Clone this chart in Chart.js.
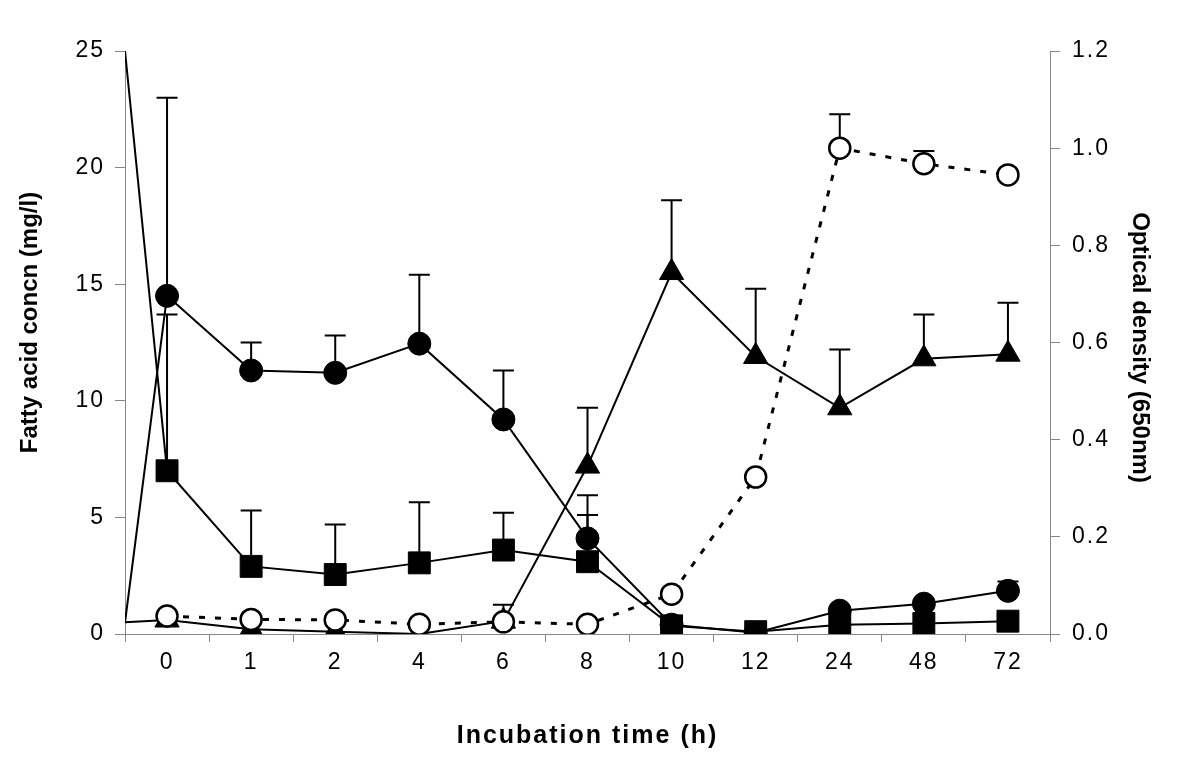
<!DOCTYPE html>
<html>
<head>
<meta charset="utf-8">
<script src="https://cdn.jsdelivr.net/npm/chart.js@4.4.1/dist/chart.umd.min.js"></script>
<style>
  html, body { margin: 0; padding: 0; background: #fff; }
</style>
</head>
<body>
<canvas id="myChart" width="1200" height="778"></canvas>
<script>
const hours = ['0', '1', '2', '4', '6', '8', '10', '12', '24', '48', '72'];

// filled circles
const circleMean = [14.5, 11.3, 11.2, 12.45, 9.2, 4.1, 0.4, 0.05, 1.0, 1.3, 1.85];
const circleErr  = [8.5, 1.2, 1.6, 2.95, 2.1, 1.85, 0, 0, 0, 0, 0.4];
// filled squares
const squareMean = [7.0, 2.9, 2.55, 3.05, 3.6, 3.1, 0.35, 0.1, 0.4, 0.45, 0.55];
const squareErr  = [6.7, 2.4, 2.15, 2.6, 1.6, 2.0, 0, 0, 0, 0, 0];
// filled triangles
const triMean = [0.6, 0.2, 0.1, 0.0, 0.55, 7.2, 15.5, 11.9, 9.7, 11.8, 12.0];
const triErr  = [0, 0, 0, 0, 0.7, 2.5, 3.1, 2.9, 2.5, 1.9, 2.2];
// open circles = optical density (right axis)
const odMean = [0.037, 0.030, 0.029, 0.020, 0.025, 0.020, 0.082, 0.323, 1.0, 0.968, 0.945];
const odErr  = [0, 0, 0, 0, 0, 0, 0, 0, 0.07, 0.026, 0];

// stray points sitting on the left edge of the plot
const leadX = -0.5;
const circleLead = 0.5;
const squareLead = 25;
const triLead = 0.5;

const leftTitle = 'Fatty acid concn (mg/l)';
const rightTitle = 'Optical density (650nm)';

const FONT = '"Liberation Sans", Arial, Helvetica, sans-serif';

function pts(vals, lead) {
  const out = vals.map((v, i) => ({x: i, y: v}));
  if (lead !== undefined) out.unshift({x: leadX, y: lead});
  return out;
}

const extras = {
  id: 'extras',
  beforeDraw(chart) {
    // the original lettering is rather wide
    chart.ctx.letterSpacing = '2px';
  },
  // only the upper half of each error bar is shown
  beforeDatasetsDraw(chart) {
    const ctx = chart.ctx;
    const xs = chart.scales.x;
    chart.data.datasets.forEach((ds, di) => {
      if (!ds.errors) return;
      const ys = chart.scales[chart.getDatasetMeta(di).yAxisID];
      ctx.save();
      ctx.strokeStyle = '#000';
      ctx.lineWidth = 2;
      ds.data.forEach(p => {
        if (p.x < 0) return;
        const e = ds.errors[p.x];
        if (!e) return;
        const px = xs.getPixelForValue(p.x);
        const y0 = ys.getPixelForValue(p.y);
        const y1 = ys.getPixelForValue(p.y + e);
        ctx.beginPath();
        ctx.moveTo(px, y0);
        ctx.lineTo(px, y1);
        ctx.moveTo(px - 10.5, y1);
        ctx.lineTo(px + 10.5, y1);
        ctx.stroke();
      });
      ctx.restore();
    });
  },
  // vertical axis titles, drawn without the extra spacing
  afterDraw(chart) {
    const ctx = chart.ctx;
    const {y, y2} = chart.scales;
    const mid = (chart.chartArea.top + chart.chartArea.bottom) / 2;
    ctx.save();
    ctx.letterSpacing = '0px';
    ctx.fillStyle = '#000';
    ctx.font = 'bold 24px ' + FONT;
    ctx.textAlign = 'center';
    ctx.textBaseline = 'middle';
    ctx.save();
    ctx.translate(y.left + 30, mid - 20);
    ctx.rotate(-Math.PI / 2);
    ctx.fillText(leftTitle, 0, 0);
    ctx.restore();
    ctx.translate(y2.right - 60, mid + 5);
    ctx.rotate(Math.PI / 2);
    ctx.fillText(rightTitle, 0, 0);
    ctx.restore();
  }
};

const hideLead = r => c => (c.raw && c.raw.x < 0 ? 0 : r);

const cfg = {
  type: 'line',
  data: {
    datasets: [{
      label: 'OD',
      data: pts(odMean),
      errors: odErr,
      yAxisID: 'y2',
      borderColor: '#000',
      borderWidth: 3,
      borderDash: [6, 10],
      pointStyle: 'circle',
      pointRadius: 10.5,
      pointBorderWidth: 2.5,
      pointBackgroundColor: '#fff',
      pointBorderColor: '#000'
    }, {
      label: 'squares',
      data: pts(squareMean, squareLead),
      errors: squareErr,
      yAxisID: 'y',
      borderColor: '#000',
      borderWidth: 2,
      pointStyle: 'rect',
      pointRadius: hideLead(15.5),
      pointBorderWidth: 1,
      pointBackgroundColor: '#000',
      pointBorderColor: '#000'
    }, {
      label: 'circles',
      data: pts(circleMean, circleLead),
      errors: circleErr,
      yAxisID: 'y',
      borderColor: '#000',
      borderWidth: 2,
      pointStyle: 'circle',
      pointRadius: hideLead(11.5),
      pointBorderWidth: 1,
      pointBackgroundColor: '#000',
      pointBorderColor: '#000'
    }, {
      label: 'triangles',
      data: pts(triMean, triLead),
      errors: triErr,
      yAxisID: 'y',
      borderColor: '#000',
      borderWidth: 2,
      pointStyle: 'triangle',
      pointRadius: hideLead(14),
      pointBorderWidth: 1,
      pointBackgroundColor: '#000',
      pointBorderColor: '#000'
    }]
  },
  options: {
    responsive: false,
    animation: false,
    devicePixelRatio: 1,
    layout: { padding: { top: 51, left: 0, right: 0, bottom: 0 } },
    plugins: {
      legend: { display: false },
      tooltip: { enabled: false }
    },
    scales: {
      x: {
        type: 'linear',
        min: -0.5,
        max: 10.5,
        afterBuildTicks: s => { s.ticks = hours.map((h, i) => ({value: i})); },
        afterFit: s => { s.height = 144; },
        ticks: {
          autoSkip: false,
          maxRotation: 0,
          padding: 7,
          color: '#000',
          font: { family: FONT, size: 23 },
          callback: (v, i) => hours[i]
        },
        grid: { offset: true, drawOnChartArea: false, tickLength: 8, color: '#888' },
        border: { color: '#888', width: 1 },
        title: {
          display: true,
          text: 'Incubation time (h)',
          color: '#000',
          font: { family: FONT, size: 25, weight: 'bold' },
          padding: { top: 0, bottom: 27 }
        }
      },
      y: {
        position: 'left',
        min: 0,
        max: 25,
        afterFit: s => { s.width = 125; },
        ticks: { stepSize: 5, padding: 10, color: '#000', font: { family: FONT, size: 23 } },
        grid: { drawOnChartArea: false, tickLength: 10, color: '#888' },
        border: { color: '#888', width: 1 }
      },
      y2: {
        position: 'right',
        min: 0,
        max: 1.2,
        afterFit: s => { s.width = 150; },
        ticks: {
          stepSize: 0.2,
          padding: 12,
          color: '#000',
          font: { family: FONT, size: 23 },
          callback: v => v.toFixed(1)
        },
        grid: { drawOnChartArea: false, tickLength: 10, color: '#888' },
        border: { color: '#888', width: 1 }
      }
    }
  },
  plugins: [extras]
};

const ctx = document.getElementById('myChart');
new Chart(ctx, cfg);
</script>
</body>
</html>
